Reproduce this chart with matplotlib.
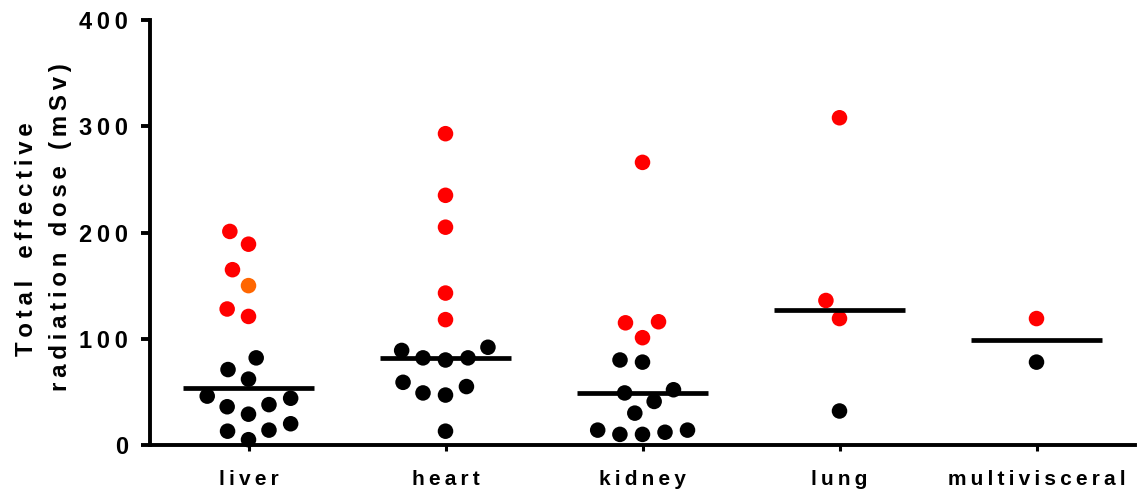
import numpy as np
import matplotlib
matplotlib.use("Agg")
import matplotlib.pyplot as plt

plt.rcParams['font.family'] = ['Liberation Sans', 'DejaVu Sans']
plt.rcParams['font.weight'] = 'bold'

categories = ["liver", "heart", "kidney", "lung", "multivisceral"]

liver_dose = [201, 189, 165, 150, 128, 121, 82, 71, 62, 46, 44, 38, 36, 29, 20, 14, 13, 5]
liver_color = ["r", "r", "r", "o", "r", "r"] + ["k"] * 12
heart_dose = [293, 235, 205, 143, 118, 92, 89, 82, 82, 80, 59, 55, 49, 47, 13]
heart_color = ["r"] * 5 + ["k"] * 10
kidney_dose = [266, 116, 115, 101, 80, 78, 52, 49, 41, 30, 14, 14, 12, 10, 10]
kidney_color = ["r"] * 4 + ["k"] * 11
lung_dose = [308, 136, 119, 32]
lung_color = ["r", "r", "r", "k"]
multi_dose = [119, 78]
multi_color = ["r", "k"]

yticks = [0, 100, 200, 300, 400]

doses = [liver_dose, heart_dose, kidney_dose, lung_dose, multi_dose]
colors = [liver_color, heart_color, kidney_color, lung_color, multi_color]
palette = {"k": "#000000", "r": "#ff0000", "o": "#ff6600"}

THIN = "\u2009"
MID = "\u2005"


def spaced(s, gap, word_gap=None):
    if word_gap is None:
        word_gap = gap + " " + gap
    return word_gap.join(gap.join(w) for w in s.split(" "))


def swarm(ypix, dist):
    # simple beeswarm: place from bottom up, nearest to centre
    order = np.argsort(ypix)
    placed = []
    out = np.zeros(len(ypix))
    for i in order:
        y = ypix[i]
        near = [(px, py) for px, py in placed if abs(py - y) < dist]
        cands = [0.0]
        for px, py in near:
            dx = np.sqrt(dist ** 2 - (py - y) ** 2)
            cands += [px - dx, px + dx]
        cands.sort(key=lambda c: (round(abs(c), 3), c))
        for c in cands:
            if all((c - px) ** 2 + (y - py) ** 2 >= dist ** 2 - 1e-6 for px, py in near):
                out[i] = c
                placed.append((c, y))
                break
    return out


fig = plt.figure(figsize=(11.42, 4.95), dpi=100)
ax = fig.add_axes([150 / 1142, 50 / 495, 985 / 1142, 425 / 495])
ax.set_xlim(-0.5, 4.5)
ax.set_ylim(0, 400)

px_per_x = ax.transData.transform((1, 0))[0] - ax.transData.transform((0, 0))[0]
px_per_y = ax.transData.transform((0, 1))[1] - ax.transData.transform((0, 0))[1]

for i, (vals, cols) in enumerate(zip(doses, colors)):
    vals = np.asarray(vals, dtype=float)
    offs = swarm(vals * px_per_y, 22.6) / px_per_x
    ax.scatter(i + offs, vals, s=125, c=[palette[c] for c in cols],
               linewidths=0, zorder=3, clip_on=False)
    med = np.median(vals)
    ax.plot([i - 0.335, i + 0.335], [med, med], color="black", lw=3.4,
            solid_capstyle="butt", zorder=4)

for side in ["top", "right"]:
    ax.spines[side].set_visible(False)
for side in ["left", "bottom"]:
    ax.spines[side].set_linewidth(2.8)
    ax.spines[side].set_capstyle("projecting")

ax.set_yticks(yticks)
ax.set_yticklabels([spaced(str(t), THIN) for t in yticks], fontsize=17, fontweight="bold")
ax.tick_params(axis="y", length=6.5, width=2.8, pad=9.5)
ax.set_xticks(range(len(categories)))
ax.set_xticklabels([spaced(c, THIN) for c in categories], fontsize=15, fontweight="bold")
ax.tick_params(axis="x", length=4.5, width=2.2, pad=13.5)

# two-line y label, each line placed by its baseline
fig.text(33 / 1142, 1 - 239 / 495, spaced("Total effective", THIN, THIN + " " + MID + THIN),
         rotation=90, rotation_mode="anchor", ha="center", va="baseline",
         fontsize=17.3, fontweight="bold")
fig.text(67 / 1142, 1 - 227 / 495, spaced("radiation dose (mSv)", THIN),
         rotation=90, rotation_mode="anchor", ha="center", va="baseline",
         fontsize=17.3, fontweight="bold")

fig.savefig("out.png", dpi=100)
